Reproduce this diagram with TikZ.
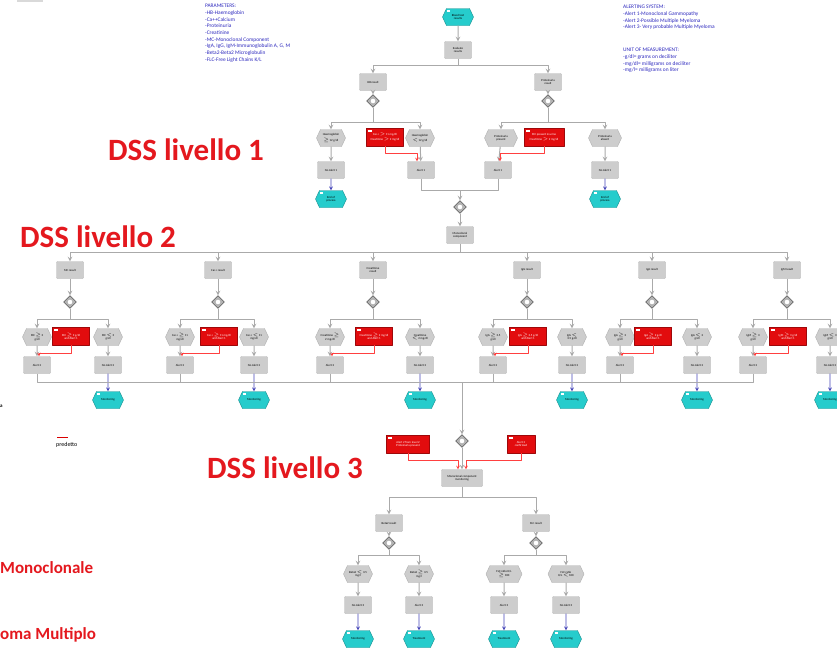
\documentclass[tikz,border=0pt]{standalone}
\usepackage{fontspec}
\setmainfont{Carlito}
\usetikzlibrary{shapes.symbols,shapes.geometric,positioning}
\definecolor{dssred}{RGB}{228,24,30}
\definecolor{noteblue}{RGB}{44,40,190}
\definecolor{evtcyan}{RGB}{38,204,204}
\definecolor{rulered}{RGB}{226,12,14}
\definecolor{boxgray}{RGB}{205,205,205}
\definecolor{linegray}{RGB}{170,170,170}
\newcommand\boxfont{\fontsize{3}{3.4}\selectfont}
\newcommand\notefont{\fontsize{5.4}{6.7}\selectfont}
\tikzset{
  func/.style={rectangle, draw=gray!60, fill=boxgray, rounded corners=0.8pt, minimum width=27pt, minimum height=17pt, inner sep=1pt, align=center, font=\boxfont},
  evt/.style={signal, signal to=east and west, signal pointer angle=130, draw=gray!60, fill=boxgray, minimum width=29pt, minimum height=17pt, inner sep=1pt, align=center, font=\boxfont},
  endevt/.style={evt, draw=evtcyan!70!black, fill=evtcyan, minimum width=31pt, path picture={\fill[white] ([shift={(4pt,-1.5pt)}]path picture bounding box.north west) rectangle ++(3.5pt,-1.6pt);}},
  rulebox/.style={rectangle, draw=rulered!70!black, fill=rulered, minimum width=37pt, minimum height=18pt, inner sep=1pt, align=center, text=white, font=\boxfont, path picture={\fill[white] ([shift={(1.5pt,-1.5pt)}]path picture bounding box.north west) rectangle ++(4pt,-2pt);}},
  gate/.style={diamond, draw=gray!40!black, fill=gray!60, minimum size=13pt, inner sep=0pt, path picture={\fill[white] (path picture bounding box.center) circle (2.3pt);}},
  flow/.style={draw=linegray, line width=1pt, ->},
  link/.style={draw=linegray, line width=1pt},
  redflow/.style={draw=red!75, line width=0.6pt, ->},
  endflow/.style={draw=blue!45!gray, line width=0.7pt, ->},
  level/.style={text=dssred, font=\fontsize{31}{31}\selectfont\bfseries, anchor=west, inner sep=0pt},
  sidelabel/.style={text=dssred, font=\fontsize{17}{17}\selectfont\bfseries, anchor=west, inner sep=0pt},
  note/.style={text=noteblue, font=\notefont, align=left, anchor=north west, inner sep=0pt}
}
\begin{document}
\begin{tikzpicture}[x=1pt, y=-1pt, >=stealth, line join=round]
  \fill[white] (0,0) rectangle (837,653);
  \useasboundingbox (0,0) rectangle (837,653);

  % notes
  \node[note] (params) at (205,4) {PARAMETERS:\\-HB-Haemoglobin\\-Ca++Calcium\\-Proteinuria\\-Creatinine\\-MC-Monoclonal Component\\-IgA, IgG, IgM-Immunoglobulin A, G, M\\-Beta2-Beta2 Microglobulin\\-FLC-Free Light Chains K/L};
  \node[note] (alerts) at (623,5) {ALERTING SYSTEM:\\-Alert 1-Monoclonal Gammopathy\\-Alert 2-Possible Multiple Myeloma\\-Alert 3- Very probable Multiple Myeloma};
  \node[note] (units) at (623,48) {UNIT OF MEASUREMENT:\\-g/dl= grams on deciliter\\-mg/dl= milligrams on deciliter\\-mg/l= milligrams on liter};

  \node[level] (lv1) at (108,150) {DSS livello 1};
  \node[level] (lv2) at (20,237) {DSS livello 2};
  \node[level] (lv3) at (207,468) {DSS livello 3};
  \node[sidelabel] (gm) at (0,568) {Monoclonale};
  \node[sidelabel] (mm) at (0,635) {oma Multiplo};
  \draw[red!85!black, line width=1pt] (57,437) -- (68,437);
  \node[anchor=west, inner sep=0pt, font=\fontsize{6}{6}\selectfont] (pred) at (56,445) {predetto};
  \node[anchor=west, inner sep=0pt, font=\fontsize{5}{5}\selectfont\bfseries] (cut) at (0,406) {a};
  \draw[gray!30, line width=1.5pt] (17,1) -- (43,1);

  % livello 1
  \node[endevt] (start) at (458,17) {Blood test\\results};
  \node[func] (eval) at (458,50) {Evaluate\\results};
  \node[func] (hb) at (373,82) {HB result};
  \node[func] (prot) at (548,82) {Proteinuria\\result};
  \node[gate] (ghb) at (373,101) {};
  \node[gate] (gprot) at (548,101) {};
  \node[evt] (hbhi) at (331,138) {Haemoglobin\\$\geq$ 12 g/dl};
  \node[rulebox] (rhb) at (385,137) {Ca++ $>$ 11 mg/dl\\Creatinine $>$ 2 mg/dl};
  \node[evt] (hblo) at (420,138) {Haemoglobin\\$<$ 12 g/dl};
  \node[evt, minimum width=33pt] (prpos) at (501,138) {Proteinuria\\present};
  \node[rulebox, minimum width=40pt] (rprot) at (544,137) {MC present in urine\\Creatinine $>$ 2 mg/dl};
  \node[evt, minimum width=33pt] (prneg) at (605,138) {Proteinuria\\absent};
  \node[func] (nohb) at (331,170) {No Alert 1};
  \node[func] (ahb) at (421,170) {Alert 1};
  \node[func] (aprot) at (498,170) {Alert 1};
  \node[func] (noprot) at (605,170) {No Alert 1};
  \node[endevt] (endhb) at (331,199) {End of\\process};
  \node[endevt] (endprot) at (605,199) {End of\\process};
  \node[gate] (gl1) at (460,207) {};
  \node[func] (mc) at (460,235) {Monoclonal\\component};
  \coordinate (s1) at (458,65);
  \coordinate (j1) at (460,190);

  \draw[flow] (start) -- (eval);
  \draw[flow] (eval) -- (s1) -| (hb);
  \draw[flow] (s1) -| (prot);
  \draw[flow] (hb) -- (ghb);
  \draw[flow] (prot) -- (gprot);
  \draw[flow] (ghb) -- ++(0,21) -| (hbhi);
  \draw[flow] (ghb) ++(0,21) -| (hblo);
  \draw[flow] (gprot) -- ++(0,21) -| (prpos);
  \draw[flow] (gprot) ++(0,21) -| (prneg);
  \draw[flow] (hbhi) -- (nohb);
  \draw[flow] (hblo) -- (ahb);
  \draw[flow] (prpos) -- (aprot);
  \draw[flow] (prneg) -- (noprot);
  \draw[endflow] (nohb) -- (endhb);
  \draw[endflow] (noprot) -- (endprot);
  \draw[redflow] (rhb) -- ++(0,16) -| ([xshift=-4pt]ahb.north);
  \draw[redflow] (rprot) -- ++(0,16) -| ([xshift=2pt]aprot.north);
  \draw[link] (ahb) |- (j1);
  \draw[link] (aprot) |- (j1);
  \draw[flow] (j1) -- (gl1);
  \draw[flow] (gl1) -- (mc);

  % livello 2
  \coordinate (s2) at (460,252);
  \coordinate (j2) at (462,382);
  \draw[link] (mc) -- (s2);
  \foreach \i/\c/\l/\r/\txt/\hi/\lo/\rl in {
    1/70/37/108/{MC result}/{MC $\geq$ 3\\g/dl}/{MC $<$ 3\\g/dl}/{MC $\geq$ 3 g/dl\\and Alert 1},
    2/218/180/254/{Ca++ result}/{Ca++ $\geq$ 11\\mg/dl}/{Ca++ $<$ 11\\mg/dl}/{Ca++ $\geq$ 11 mg/dl\\and Alert 1},
    3/373/330/420/{Creatinine\\result}/{Creatinine $\geq$\\2 mg/dl}/{Creatinine\\$<$ 2 mg/dl}/{Creatinine $\geq$ 2 mg/dl\\and Alert 1},
    4/527/493/572/{IgG result}/{IgG $\geq$ 3.5\\g/dl}/{IgG $<$\\3.5 g/dl}/{IgG $\geq$ 3.5 g/dl\\and Alert 1},
    5/652/620/697/{IgA result}/{IgA $\geq$ 2\\g/dl}/{IgA $<$ 2\\g/dl}/{IgA $\geq$ 2 g/dl\\and Alert 1},
    6/787/753/830/{IgM result}/{IgM $\geq$ 3\\g/dl}/{IgM $<$ 3\\g/dl}/{IgM $\geq$ 3 g/dl\\and Alert 1}}
  {
    \node[func] (b\i) at (\c,270) {\txt};
    \node[gate] (g\i) at (\c,302) {};
    \node[evt] (hl\i) at (\l,337) {\hi};
    \node[rulebox] (r\i) at (\c+1,336) {\rl};
    \node[evt] (hr\i) at (\r,337) {\lo};
    \node[func] (a\i) at (\l,365) {Alert 2};
    \node[func] (n\i) at (\r,365) {No Alert 2};
    \node[endevt] (e\i) at (\r,400) {Monitoring};
    \draw[flow] (s2) -| (b\i);
    \draw[flow] (b\i) -- (g\i);
    \draw[flow] (g\i) -- ++(0,17) -| (hl\i);
    \draw[flow] (g\i) ++(0,17) -| (hr\i);
    \draw[flow] (hl\i) -- (a\i);
    \draw[flow] (hr\i) -- (n\i);
    \draw[endflow] (n\i) -- (e\i);
    \draw[redflow] (r\i) -- ++(0,17) -| ([xshift=2pt]a\i.north);
    \draw[link] (a\i) |- (j2);
  }

  % livello 3
  \node[gate] (g7) at (462,441) {};
  \node[rulebox, minimum width=43pt] (r7) at (408,444) {Alert 2 from level 2\\Proteinuria present};
  \node[rulebox, minimum width=28pt] (r8) at (521,444) {Alert 2\\confirmed};
  \node[func, minimum width=41pt] (mcm) at (462,478) {Monoclonal component\\monitoring};
  \coordinate (s3) at (462,497);
  \node[func] (beta) at (389,523) {Beta2 result};
  \node[func] (flc) at (536,523) {FLC result};
  \node[gate] (gbeta) at (389,543) {};
  \node[gate] (gflc) at (536,543) {};
  \node[evt] (betalo) at (358,574) {Beta2 $<$ 3.5\\mg/l};
  \node[evt] (betahi) at (419,574) {Beta2 $\geq$ 3.5\\mg/l};
  \node[evt, minimum width=36pt] (flchi) at (504,574) {FLC ratio K/L\\$\geq$ 100};
  \node[evt, minimum width=36pt] (flclo) at (566,574) {FLC ratio\\K/L $<$ 100};
  \node[func] (nobeta) at (358,605) {No Alert 3};
  \node[func] (abeta) at (419,605) {Alert 3};
  \node[func] (aflc) at (504,605) {Alert 3};
  \node[func] (noflc) at (566,605) {No Alert 3};
  \node[endevt] (e7) at (358,639) {Monitoring};
  \node[endevt] (e8) at (419,639) {Treatment};
  \node[endevt] (e9) at (504,639) {Treatment};
  \node[endevt] (e10) at (566,639) {Monitoring};

  \draw[flow] (j2) -- (g7);
  \draw[flow] (g7) -- (mcm);
  \draw[redflow] (r7) -- ++(0,16) -| ([xshift=-4pt]mcm.north);
  \draw[redflow] (r8) -- ++(0,16) -| ([xshift=4pt]mcm.north);
  \draw[link] (mcm) -- (s3);
  \draw[flow] (s3) -| (beta);
  \draw[flow] (s3) -| (flc);
  \draw[flow] (beta) -- (gbeta);
  \draw[flow] (flc) -- (gflc);
  \draw[flow] (gbeta) -- ++(0,12) -| (betalo);
  \draw[flow] (gbeta) ++(0,12) -| (betahi);
  \draw[flow] (gflc) -- ++(0,12) -| (flchi);
  \draw[flow] (gflc) ++(0,12) -| (flclo);
  \draw[flow] (betalo) -- (nobeta);
  \draw[flow] (betahi) -- (abeta);
  \draw[flow] (flchi) -- (aflc);
  \draw[flow] (flclo) -- (noflc);
  \draw[endflow] (nobeta) -- (e7);
  \draw[endflow] (abeta) -- (e8);
  \draw[endflow] (aflc) -- (e9);
  \draw[endflow] (noflc) -- (e10);
\end{tikzpicture}
\end{document}
